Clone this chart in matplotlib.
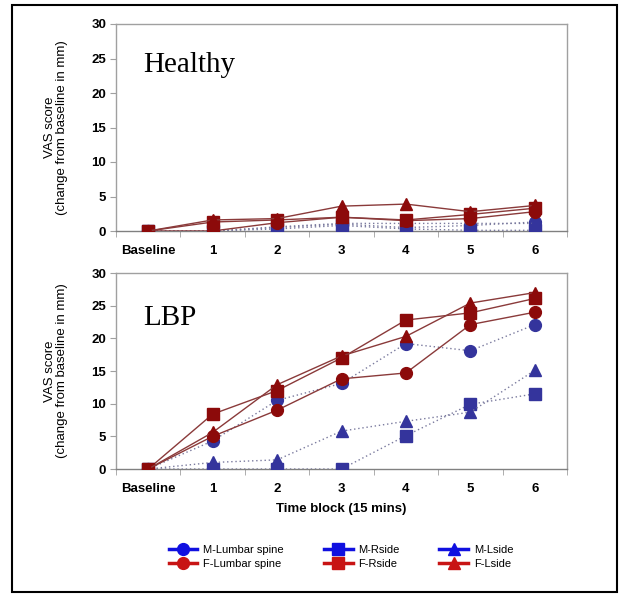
import matplotlib
matplotlib.use("Agg")
import matplotlib.pyplot as plt
from matplotlib.lines import Line2D
from matplotlib.patches import Rectangle

categories = ["Baseline", "1", "2", "3", "4", "5", "6"]
series_names = ["M-Lumbar spine", "F-Lumbar spine", "M-Rside", "F-Rside", "M-Lside", "F-Lside"]

# Healthy panel
healthy_m_lumbar = [0, 0.0, 0.5, 1.0, 0.5, 0.8, 1.3]
healthy_m_rside = [0, 0.0, 0.3, 0.8, 0.3, 0.1, 0.1]
healthy_m_lside = [0, 0.0, 0.6, 1.1, 1.1, 1.1, 1.1]
healthy_f_lumbar = [0, 0.0, 1.2, 2.0, 1.5, 1.8, 2.8]
healthy_f_rside = [0, 1.3, 1.6, 2.0, 1.6, 2.4, 3.3]
healthy_f_lside = [0, 1.6, 1.8, 3.6, 3.9, 2.8, 3.7]

# LBP panel
lbp_m_lumbar = [0, 4.3, 10.5, 13.1, 19.2, 18.1, 22.1]
lbp_m_rside = [0, 0.0, 0.0, 0.0, 5.1, 9.9, 11.5]
lbp_m_lside = [0, 1.0, 1.4, 5.8, 7.3, 8.7, 15.1]
lbp_f_lumbar = [0, 5.0, 9.0, 13.8, 14.7, 22.1, 24.0]
lbp_f_rside = [0, 8.4, 12.0, 17.0, 22.8, 23.9, 26.1]
lbp_f_lside = [0, 5.6, 12.9, 17.3, 20.3, 25.4, 27.0]

y_ticks = [0, 5, 10, 15, 20, 25, 30]

BLUE = "#34349c"
RED = "#8c0a0a"
BLUE_LINE = "#7a7a9e"
RED_LINE = "#8a3a3a"
LEG_BLUE = "#1010e0"
LEG_RED = "#c81414"
GRAY = "#a0a0a0"

plt.rcParams["font.family"] = ["Liberation Sans", "DejaVu Sans"]

fig = plt.figure(figsize=(6.26, 5.99), dpi=100)
W, H = 626, 599

def ax_rect(l, t, r, b):
    return [l / W, 1 - b / H, (r - l) / W, (b - t) / H]

ax_top = fig.add_axes(ax_rect(116, 24, 567, 231))
ax_bot = fig.add_axes(ax_rect(116, 273, 567, 469))

x = list(range(len(categories)))
ms = 8.5

def draw(ax, m_l, m_r, m_s, f_l, f_r, f_s, label, label_y):
    # male: dotted
    for vals, mk in ((m_l, "o"), (m_r, "s"), (m_s, "^")):
        ax.plot(x, vals, linestyle=(0, (1, 2)), color=BLUE_LINE, lw=1.0,
                marker=mk, markersize=ms, markerfacecolor=BLUE,
                markeredgecolor=BLUE, zorder=3)
    for vals, mk in ((f_l, "o"), (f_r, "s"), (f_s, "^")):
        ax.plot(x, vals, linestyle="-", color=RED_LINE, lw=1.0,
                marker=mk, markersize=ms, markerfacecolor=RED,
                markeredgecolor=RED, zorder=4)
    ax.set_xlim(-0.5, 6.5)
    ax.set_ylim(0, 30)
    ax.set_yticks(y_ticks)
    ax.set_yticklabels([str(v) for v in y_ticks], fontsize=9.5, fontweight="bold")
    ax.set_xticks(x)
    ax.set_xticklabels(categories, fontsize=9.5, fontweight="bold")
    ax.tick_params(axis="x", which="major", length=0, pad=10)
    ax.set_xticks([i - 0.5 for i in range(len(categories) + 1)], minor=True)
    ax.tick_params(axis="x", which="minor", length=4, color=GRAY, direction="out")
    ax.tick_params(axis="y", length=4, color=GRAY, direction="out", pad=3)
    for s in ax.spines.values():
        s.set_color(GRAY)
        s.set_linewidth(1.0)
    ax.spines["bottom"].set_color("#808080")
    ax.set_ylabel("VAS score\n(change from baseline in mm)", fontsize=9.5,
                  linespacing=1.0, labelpad=17)
    ax.text(0.06, label_y, label, transform=ax.transAxes, fontsize=21,
            family=["Liberation Serif", "DejaVu Serif"], va="baseline", ha="left")

draw(ax_top, healthy_m_lumbar, healthy_m_rside, healthy_m_lside,
     healthy_f_lumbar, healthy_f_rside, healthy_f_lside, "Healthy", 0.768)
draw(ax_bot, lbp_m_lumbar, lbp_m_rside, lbp_m_lside,
     lbp_f_lumbar, lbp_f_rside, lbp_f_lside, "LBP", 0.735)
ax_bot.set_xlabel("Time block (15 mins)", fontsize=9.5, fontweight="bold", labelpad=6)

markers = ["o", "o", "s", "s", "^", "^"]
colors = [LEG_BLUE, LEG_RED, LEG_BLUE, LEG_RED, LEG_BLUE, LEG_RED]
handles = [Line2D([0], [0], color=c, lw=2.5, marker=m, markersize=8.5,
                  markerfacecolor=c, markeredgecolor=c)
           for m, c in zip(markers, colors)]
fig.legend(handles, series_names, ncol=3, loc="center",
           bbox_to_anchor=(341 / W, 1 - 557 / H), frameon=False,
           fontsize=8, handlelength=2.6, columnspacing=3.6,
           labelspacing=0.3, handletextpad=0.5)

fig.patches.append(Rectangle((12 / W, 1 - 592 / H), (617 - 12) / W, (592 - 5) / H,
                             transform=fig.transFigure, fill=False,
                             edgecolor="black", lw=1.5))

fig.savefig("out.png", dpi=100)
